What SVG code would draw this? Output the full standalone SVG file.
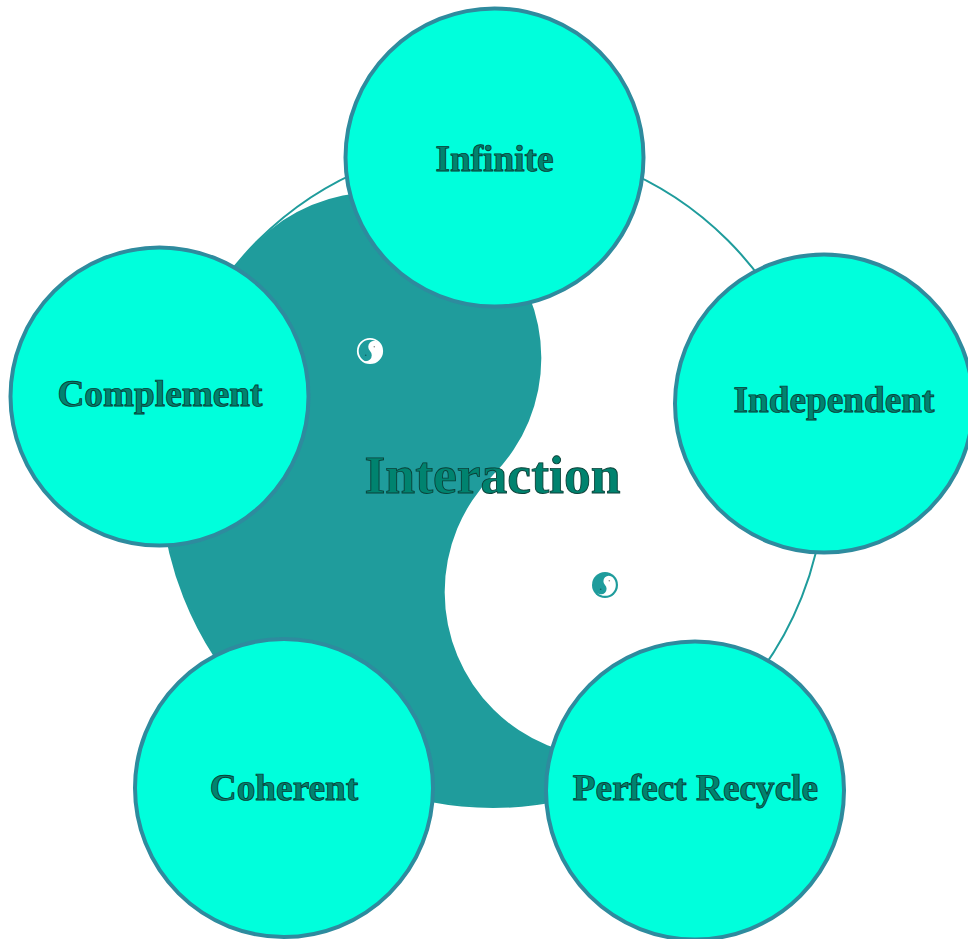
<svg xmlns="http://www.w3.org/2000/svg" width="968" height="939" viewBox="0 0 968 939">
<style>
.node{fill:#00ffdc;stroke:#2e8b9e;stroke-width:4}
text{font-family:"Liberation Serif","Times New Roman",serif;font-weight:bold;text-anchor:middle;fill:#00836f;stroke:#0b4038;stroke-width:0.9;text-rendering:geometricPrecision}
.label{font-size:37.3px}
.title{font-size:53.6px}
</style>
<defs>
<path id="lobe" d="M8.5,-8.5A11,11 0 0 1 -8.5,8.5A5,5 0 0 0 0,0A5,5 0 0 1 8.5,-8.5Z"/>
<circle id="dot-a" cx="4.3" cy="-4.3" r="0.8" fill="#888888"/>
<circle id="dot-b" cx="-4.3" cy="4.3" r="0.8" fill="#0d5f5f"/>
</defs>
<rect width="968" height="939" fill="#ffffff"/>
<g id="connectors">
<circle cx="493" cy="475" r="332" fill="none" stroke="#1f9c9c" stroke-width="2"/>
</g>
<g id="center">
<path d="M258,241A330,330 0 0 0 728,709A160,160 0 0 1 493,475A160,160 0 0 0 258,241Z" fill="#1f9c9c"/>
<g transform="translate(370,351)"><circle r="12.2" fill="none" stroke="#ffffff" stroke-width="1.8"/><use href="#lobe" fill="#ffffff"/><use href="#dot-a"/><use href="#dot-b"/></g>
<g transform="translate(605,585)"><circle r="13" fill="#1f9c9c"/><use href="#lobe" fill="#ffffff" transform="scale(0.9)"/><use href="#dot-a"/><use href="#dot-b"/></g>
<text class="title" x="492.5" y="493">Interaction</text>
</g>
<g id="node-infinite"><circle class="node" cx="494.5" cy="157.5" r="149"/><text class="label" x="494.5" y="170.5">Infinite</text></g>
<g id="node-independent"><circle class="node" cx="824" cy="403.5" r="149"/><text class="label" x="834" y="412">Independent</text></g>
<g id="node-perfect-recycle"><circle class="node" cx="695" cy="790.5" r="149"/><text class="label" x="695.5" y="800">Perfect Recycle</text></g>
<g id="node-coherent"><circle class="node" cx="284" cy="788" r="149"/><text class="label" x="284" y="800">Coherent</text></g>
<g id="node-complement"><circle class="node" cx="159.5" cy="396.5" r="149"/><text class="label" x="160" y="406">Complement</text></g>
</svg>
